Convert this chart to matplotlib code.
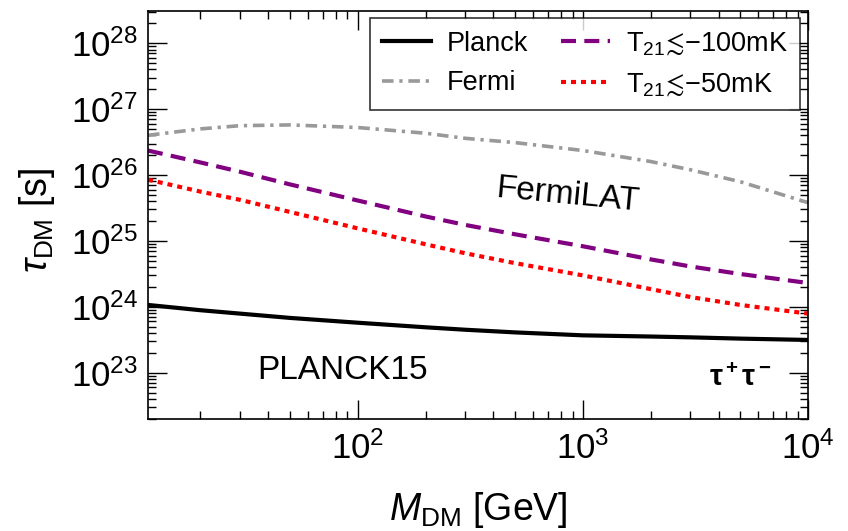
import matplotlib
matplotlib.use("Agg")
import matplotlib.pyplot as plt
from matplotlib.ticker import LogLocator, NullFormatter

plt.rcParams['font.family'] = ['Liberation Sans', 'DejaVu Sans']
plt.rcParams['mathtext.fontset'] = 'custom'
plt.rcParams['mathtext.rm'] = 'Liberation Sans'
plt.rcParams['mathtext.it'] = 'Liberation Sans:italic'
plt.rcParams['mathtext.bf'] = 'Liberation Sans:bold'

# dark matter mass [GeV]
mass = [11.7, 20, 30, 50, 100, 200, 300, 500, 1000, 2000, 3000, 5000, 10000]

# lifetime bounds [s]
planck = [1.07e24, 8.9e23, 7.9e23, 6.8e23, 5.75e23, 4.9e23, 4.5e23, 4.1e23,
          3.7e23, 3.55e23, 3.45e23, 3.3e23, 3.15e23]
fermi = [4.0e26, 5.0e26, 5.6e26, 5.75e26, 5.25e26, 4.3e26, 3.6e26, 3.1e26,
         2.35e26, 1.6e26, 1.2e26, 7.9e25, 3.8e25]
t21_100 = [2.35e26, 1.55e26, 1.12e26, 7.2e25, 4.1e25, 2.35e25, 1.75e25, 1.26e25,
           8.3e24, 5.25e24, 4.1e24, 3.15e24, 2.3e24]
t21_50 = [8.5e25, 5.6e25, 4.2e25, 2.75e25, 1.55e25, 8.9e24, 6.5e24, 4.6e24,
          3.0e24, 1.86e24, 1.41e24, 1.07e24, 7.9e23]

fig = plt.figure(figsize=(8.48, 5.31), dpi=100)
ax = fig.add_axes([0.1745, 0.211, 0.7785, 0.768])

ax.plot(mass, planck, color='black', lw=3, label='Planck')
ax.plot(mass, fermi, color='#999999', lw=2.6, dashes=(3.2, 1.6, 0.9, 1.6), label='Fermi')
ax.plot(mass, t21_100, color='#800080', lw=3, dashes=(3.6, 2.0),
        label=r'T$_{21}\!\lesssim\!$−100mK')
ax.plot(mass, t21_50, color='red', lw=3, dashes=(1.2, 1.2),
        label=r'T$_{21}\!\lesssim\!$−50mK')

ax.set_xscale('log')
ax.set_yscale('log')
ax.set_xlim(11.7, 1e4)
ax.set_ylim(10**22.3, 10**28.485)

ax.xaxis.set_major_locator(LogLocator(base=10, numticks=10))
ax.xaxis.set_minor_locator(LogLocator(base=10, subs=range(2, 10), numticks=20))
ax.yaxis.set_major_locator(LogLocator(base=10, numticks=10))
ax.yaxis.set_minor_locator(LogLocator(base=10, subs=range(2, 10), numticks=20))
ax.xaxis.set_minor_formatter(NullFormatter())
ax.yaxis.set_minor_formatter(NullFormatter())

ax.tick_params(which='both', direction='in', top=True, right=True, width=1.0)
ax.tick_params(which='major', length=14, labelsize=25)
ax.tick_params(which='minor', length=6)
ax.tick_params(axis='x', which='major', pad=9)
ax.tick_params(axis='y', which='major', pad=7)
for sp in ax.spines.values():
    sp.set_linewidth(1.2)

ax.set_xlabel(r'$M_{\rm DM}$ [GeV]', fontsize=27)
ax.set_ylabel(r'$\tau_{\rm DM}$ [s]', fontsize=27)
ax.xaxis.set_label_coords(0.5, -0.175)
ax.yaxis.set_label_coords(-0.138, 0.488)

ax.text(0.635, 0.547, 'FermiLAT', transform=ax.transAxes, fontsize=24,
        rotation=-5.5, ha='center', va='center')
ax.text(0.294, 0.120, 'PLANCK15', transform=ax.transAxes, fontsize=24,
        ha='center', va='center')
ax.text(0.897, 0.100, r'$\mathbf{\tau^+\tau^-}$', transform=ax.transAxes, fontsize=21,
        ha='center', va='center')

leg = ax.legend(ncol=2, loc='upper right', bbox_to_anchor=(0.988, 0.983),
                borderaxespad=0, fontsize=19.5, fancybox=False, edgecolor='black',
                handlelength=1.8, handletextpad=0.6, columnspacing=1.2,
                labelspacing=0.5, borderpad=0.45)
leg.get_frame().set_linewidth(1.2)

fig.savefig('out.png', dpi=100)
